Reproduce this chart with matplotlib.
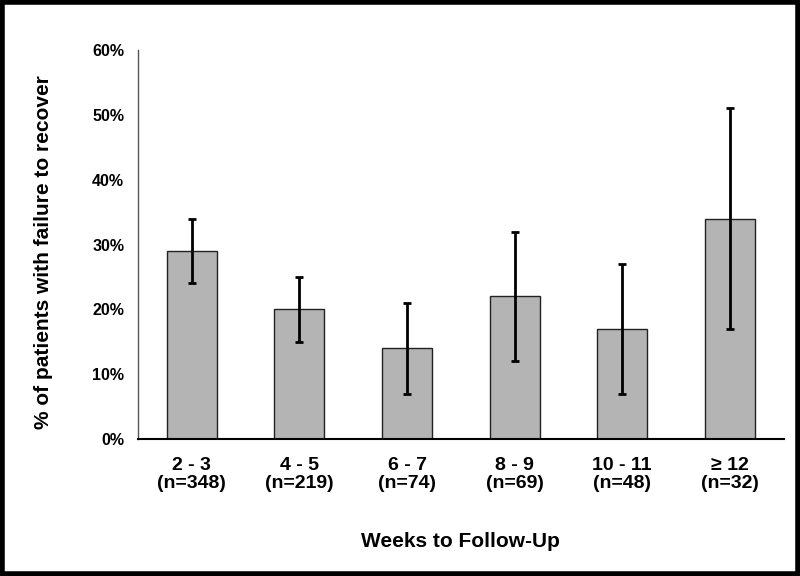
import matplotlib
matplotlib.use('Agg')
import matplotlib.pyplot as plt
from matplotlib.patches import Rectangle
import numpy as np

categories = ['2 - 3\n(n=348)', '4 - 5\n(n=219)', '6 - 7\n(n=74)',
              '8 - 9\n(n=69)', '10 - 11\n(n=48)', '\u2265 12\n(n=32)']
values = [29, 20, 14, 22, 17, 34]
lower = [24, 15, 7, 12, 7, 17]
upper = [34, 25, 21, 32, 27, 51]

plt.rcParams['font.family'] = ['Liberation Sans', 'DejaVu Sans']
plt.rcParams['font.weight'] = 'bold'

fig = plt.figure(figsize=(8, 5.76), dpi=100)
ax = fig.add_axes([0.1725, 0.238, 0.807, 0.675])

x = np.arange(len(values))
vals = np.array(values)
err = [vals - np.array(lower), np.array(upper) - vals]
ax.bar(x, vals, width=0.466, color='#b4b4b4', edgecolor='#222222', linewidth=1)
ax.errorbar(x, vals, yerr=err, fmt='none', ecolor='black', elinewidth=2,
            capsize=3, capthick=2)

ax.set_xlim(-0.5, len(values) - 0.5)
ax.set_ylim(0, 60)
ax.set_yticks(range(0, 61, 10))
ax.set_yticklabels([f'{v}%' for v in range(0, 61, 10)], fontsize=11.5, fontweight='bold')
ax.set_xticks(x)
ax.set_xticklabels(categories, fontsize=14, fontweight='bold', linespacing=1.1)
ax.tick_params(axis='x', length=0, pad=13)
ax.tick_params(axis='y', length=0, pad=10)

for s in ['top', 'right']:
    ax.spines[s].set_visible(False)
ax.spines['left'].set_color('#555555')
ax.spines['left'].set_linewidth(1)
ax.spines['bottom'].set_linewidth(1.5)

ax.set_ylabel('% of patients with failure to recover', fontsize=15, fontweight='bold',
              va='center', ha='center')
ax.yaxis.set_label_coords(-0.146, 0.48)
ax.set_xlabel('Weeks to Follow-Up', fontsize=15, fontweight='bold', va='center')
ax.xaxis.set_label_coords(0.5, -0.265)

# thick frame around the whole figure
fig.patches.append(Rectangle((0.003, 0.004), 0.994, 0.992, transform=fig.transFigure,
                             fill=False, edgecolor='black', linewidth=4))

fig.savefig('out.png', dpi=100)
